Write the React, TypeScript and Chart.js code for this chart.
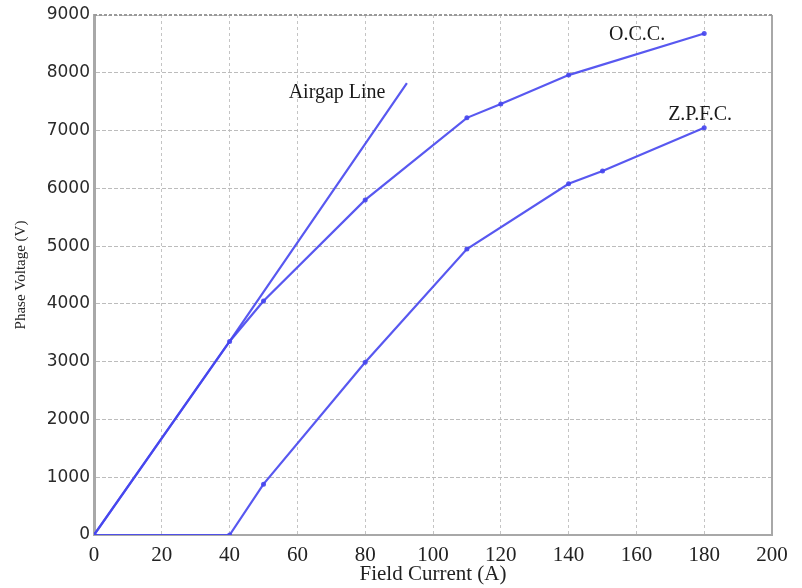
import React, { useEffect, useRef } from "react";
import { Chart, registerables } from "chart.js";

Chart.register(...registerables);

// Field current (A) / phase voltage (V)
const occX = [0, 40, 50, 80, 110, 120, 140, 180];
const occY = [0, 3350, 4050, 5800, 7220, 7460, 7960, 8680];
const zpfcX = [0, 40, 50, 80, 110, 140, 150, 180];
const zpfcY = [0, 0, 880, 2990, 4950, 6080, 6300, 7050];
const airX = [0, 40, 92.3];
const airY = [0, 3350, 7820];

const labelText = ["Airgap Line", "O.C.C.", "Z.P.F.C."];
const labelX = [71.7, 160.2, 178.8];
const labelY = [7650, 8653, 7269];

const xMin = 0;
const xMax = 200;
const xStep = 20;
const yMin = 0;
const yMax = 9000;
const yStep = 1000;

const xTitle = "Field Current (A)";
const yTitle = "Phase Voltage (V)";

const lineColor = "rgba(70,70,238,0.9)";

const toPts = (xs: number[], ys: number[]) => xs.map((v, i) => ({ x: v, y: ys[i] }));

const overlay = {
  id: "overlay",
  beforeDatasetsDraw(chart: any) {
    const { ctx, chartArea } = chart;
    ctx.save();
    ctx.strokeStyle = "#a8a8a8";
    ctx.lineWidth = 2;
    ctx.beginPath();
    ctx.moveTo(chartArea.right, chartArea.top);
    ctx.lineTo(chartArea.right, chartArea.bottom);
    ctx.stroke();
    ctx.strokeStyle = "#9a9a9a";
    ctx.setLineDash([3, 2]);
    ctx.beginPath();
    ctx.moveTo(chartArea.left, chartArea.top);
    ctx.lineTo(chartArea.right, chartArea.top);
    ctx.stroke();
    ctx.restore();
  },
  afterDatasetsDraw(chart: any) {
    const { ctx, scales } = chart;
    const x = scales.x;
    const y = scales.y;
    ctx.save();
    ctx.font = '20px "Liberation Serif"';
    ctx.fillStyle = "#1a1a1a";
    ctx.textAlign = "center";
    ctx.textBaseline = "middle";
    labelText.forEach((t, i) => {
      ctx.fillText(t, x.getPixelForValue(labelX[i]), y.getPixelForValue(labelY[i]));
    });
    ctx.restore();
  },
};

export default function App() {
  const ref = useRef<HTMLCanvasElement>(null);

  useEffect(() => {
    if (!ref.current) return;
    const chart = new Chart(ref.current, {
      type: "line",
      data: {
        datasets: [
          {
            label: "Airgap",
            data: toPts(airX, airY),
            borderColor: lineColor,
            backgroundColor: lineColor,
            borderWidth: 2.2,
            pointRadius: 0,
            tension: 0,
          },
          {
            label: "OCC",
            data: toPts(occX, occY),
            borderColor: lineColor,
            backgroundColor: lineColor,
            borderWidth: 2.2,
            pointRadius: 2.5,
            pointBorderWidth: 0,
            tension: 0,
          },
          {
            label: "ZPFC",
            data: toPts(zpfcX, zpfcY),
            borderColor: lineColor,
            backgroundColor: lineColor,
            borderWidth: 2.2,
            pointRadius: 2.5,
            pointBorderWidth: 0,
            tension: 0,
          },
        ],
      },
      options: {
        responsive: false,
        animation: false,
        devicePixelRatio: 1,
        layout: { padding: { top: 15, right: 30, left: 0, bottom: 0 } },
        plugins: {
          legend: { display: false },
          tooltip: { enabled: false },
        },
        scales: {
          x: {
            type: "linear",
            min: xMin,
            max: xMax,
            afterFit: (s: any) => {
              s.height = 53;
            },
            ticks: {
              stepSize: xStep,
              padding: 8,
              color: "#222",
              font: { family: "Liberation Serif", size: 21 },
              maxRotation: 0,
              callback: (v: any) => String(v),
            },
            grid: { color: "#c4c4c4", lineWidth: 1, drawTicks: false },
            border: { color: "#a8a8a8", width: 2, dash: [3, 3] },
            title: {
              display: true,
              text: xTitle,
              color: "#222",
              font: { family: "Liberation Serif", size: 21 },
              padding: { top: 0, bottom: 1 },
            },
          },
          y: {
            type: "linear",
            min: yMin,
            max: yMax,
            afterFit: (s: any) => {
              s.width = 94;
            },
            ticks: {
              stepSize: yStep,
              padding: 4,
              color: "#2a2a2a",
              font: { family: "DejaVu Sans", size: 17 },
              callback: (v: any) => String(v),
            },
            grid: { color: "#bcbcbc", lineWidth: 1, drawTicks: false },
            border: { color: "#a8a8a8", width: 3, dash: [4, 2] },
            title: {
              display: true,
              text: yTitle,
              color: "#222",
              font: { family: "Liberation Serif", size: 15 },
              padding: { top: 12, bottom: 0 },
            },
          },
        },
      },
      plugins: [overlay],
    });
    return () => chart.destroy();
  }, []);

  return (
    <div style={{ position: "fixed", left: 0, top: 0, width: 802, height: 588, background: "#fff" }}>
      <canvas ref={ref} width={802} height={588} />
    </div>
  );
}
